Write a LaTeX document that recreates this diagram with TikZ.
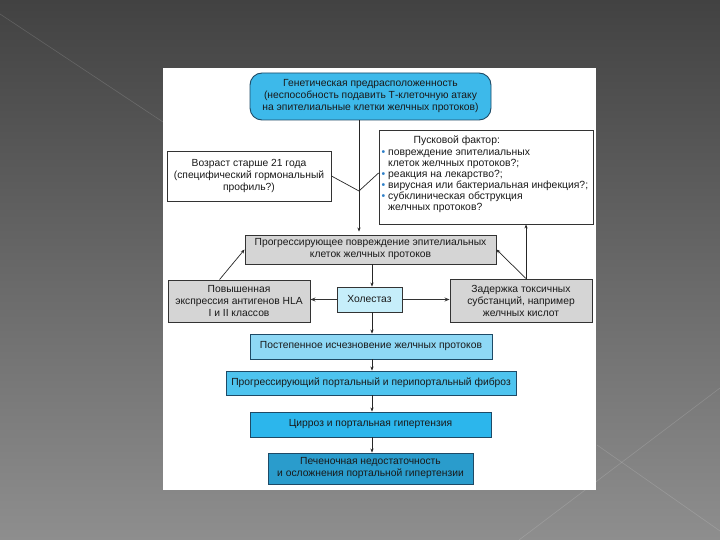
\documentclass[tikz,border=0pt]{standalone}
\usepackage{fontspec}
\setmainfont{Liberation Sans}
\usetikzlibrary{arrows.meta}
\definecolor{genblue}{HTML}{3DB9EA}
\definecolor{navy}{HTML}{1E4A66}
\definecolor{boxgray}{HTML}{D5D5D5}
\definecolor{edgegray}{HTML}{333333}
\definecolor{cholcol}{HTML}{C6EEFA}
\definecolor{gradcol}{HTML}{8ED8F5}
\definecolor{fibcol}{HTML}{4EC4EF}
\definecolor{circol}{HTML}{2CB6EC}
\definecolor{livcol}{HTML}{2A9CCC}
\definecolor{bulblue}{HTML}{2E7FC8}
\definecolor{bgtop}{HTML}{424242}
\definecolor{bgbot}{HTML}{8E8E8E}
\newcommand{\bul}{\makebox[6.5bp][l]{\textcolor{bulblue}{\textbullet}}}
\newcommand{\ind}{\hspace*{6.5bp}}
\begin{document}
\begin{tikzpicture}[x=1bp,y=-1bp,
  txt/.style={font=\fontsize{10.3bp}{12bp}\selectfont, align=center, inner sep=0pt, text=black!90},
  box/.style={txt, draw=edgegray, line width=0.9bp},
  graybox/.style={box, fill=boxgray},
  whitebox/.style={box, fill=white},
  bluebox/.style={txt, draw=navy, line width=0.9bp},
  conn/.style={draw=black!85, line width=0.7bp},
  arr/.style={conn, -{Stealth[length=4bp,width=3.2bp]}},
  thickarr/.style={draw=black!80, line width=1.6bp, -{Stealth[length=5bp,width=4bp]}},
  deco/.style={draw=white, opacity=0.15, line width=0.6bp}
]
\useasboundingbox (0,0) rectangle (720,540);
\shade[top color=bgtop, bottom color=bgbot] (0,0) rectangle (720,540);
\draw[deco] (0,14) -- (163,122);
\draw[deco] (720,388) -- (519,540);
\draw[deco] (597,445) -- (720,531);
\fill[white] (163,68) rectangle (596,490);

% nodes
\node[bluebox, fill=genblue, rounded corners=12bp, minimum width=241bp, minimum height=47bp] (gen) at (370.5,96.5)
  {Генетическая предрасположенность\\(неспособность подавить Т-клеточную атаку\\на эпителиальные клетки желчных протоков)};
\node[whitebox, minimum width=164bp, minimum height=50bp] (age) at (249,176)
  {Возраст старше 21 года\\(специфический гормональный\\профиль?)};
\node[whitebox, minimum width=214bp, minimum height=94bp] (trig) at (486,177) {};
\node[txt, align=left, anchor=north west, font=\fontsize{10.4bp}{10.9bp}\selectfont] (trigtext) at (381.5,135.5)
  {\hspace*{32bp}Пусковой фактор:\\[1.5bp]
   \bul повреждение эпителиальных\\
   \ind клеток желчных протоков?;\\
   \bul реакция на лекарство?;\\
   \bul вирусная или бактериальная инфекция?;\\
   \bul субклиническая обструкция\\
   \ind желчных протоков?};
\node[graybox, minimum width=251bp, minimum height=29bp] (prog) at (370.5,249.5)
  {Прогрессирующее повреждение эпителиальных\\клеток желчных протоков};
\node[graybox, minimum width=142bp, minimum height=42bp] (hla) at (239,301)
  {Повышенная\\экспрессия антигенов HLA\\I и II классов};
\node[box, fill=cholcol, minimum width=65bp, minimum height=25bp] (chol) at (369.5,299.5) {Холестаз};
\node[graybox, minimum width=142bp, minimum height=43bp] (tox) at (521,300.5)
  {Задержка токсичных\\субстанций, например\\желчных кислот};
\node[bluebox, fill=gradcol, minimum width=242bp, minimum height=25bp] (grad) at (371,346.5)
  {Постепенное исчезновение желчных протоков};
\node[bluebox, fill=fibcol, minimum width=290bp, minimum height=24bp] (fib) at (371,383)
  {Прогрессирующий портальный и перипортальный фиброз};
\node[bluebox, fill=circol, minimum width=241bp, minimum height=25bp] (cir) at (370.5,424.5)
  {Цирроз и портальная гипертензия};
\node[bluebox, fill=livcol, minimum width=205bp, minimum height=31bp] (liv) at (370.5,468.5)
  {Печеночная недостаточность\\и осложнения портальной гипертензии};

% helper coordinates
\coordinate (j) at (359,191);
\coordinate (col) at (372,0);
\coordinate (tt) at ([xshift=76.5bp]tox.north west);
\coordinate (ht) at ([xshift=52bp]hla.north west);

% connectors
\draw[conn] (gen.south -| j) -- (j);
\draw[arr, shorten >=3bp] (j) -- (j |- prog.north);
\draw[conn] (age.east) -- (j);
\draw[conn] ([yshift=4bp]trig.west) -- (j);
\draw[arr] (prog.south -| col) -- (chol.north -| col);
\draw[thickarr] (chol.west) -- (chol.west -| hla.east);
\draw[thickarr] (chol.east) -- (chol.east -| tox.west);
\draw[arr] (ht) -- (prog.west);
\draw[arr] (tt) -- (prog.east);
\draw[arr] (tt) -- (tt |- trig.south);
\draw[arr] (chol.south -| col) -- (grad.north -| col);
\draw[arr] (grad.south -| col) -- (fib.north -| col);
\draw[arr] (fib.south -| col) -- (cir.north -| col);
\draw[arr] (cir.south -| col) -- (liv.north -| col);
\end{tikzpicture}
\end{document}
